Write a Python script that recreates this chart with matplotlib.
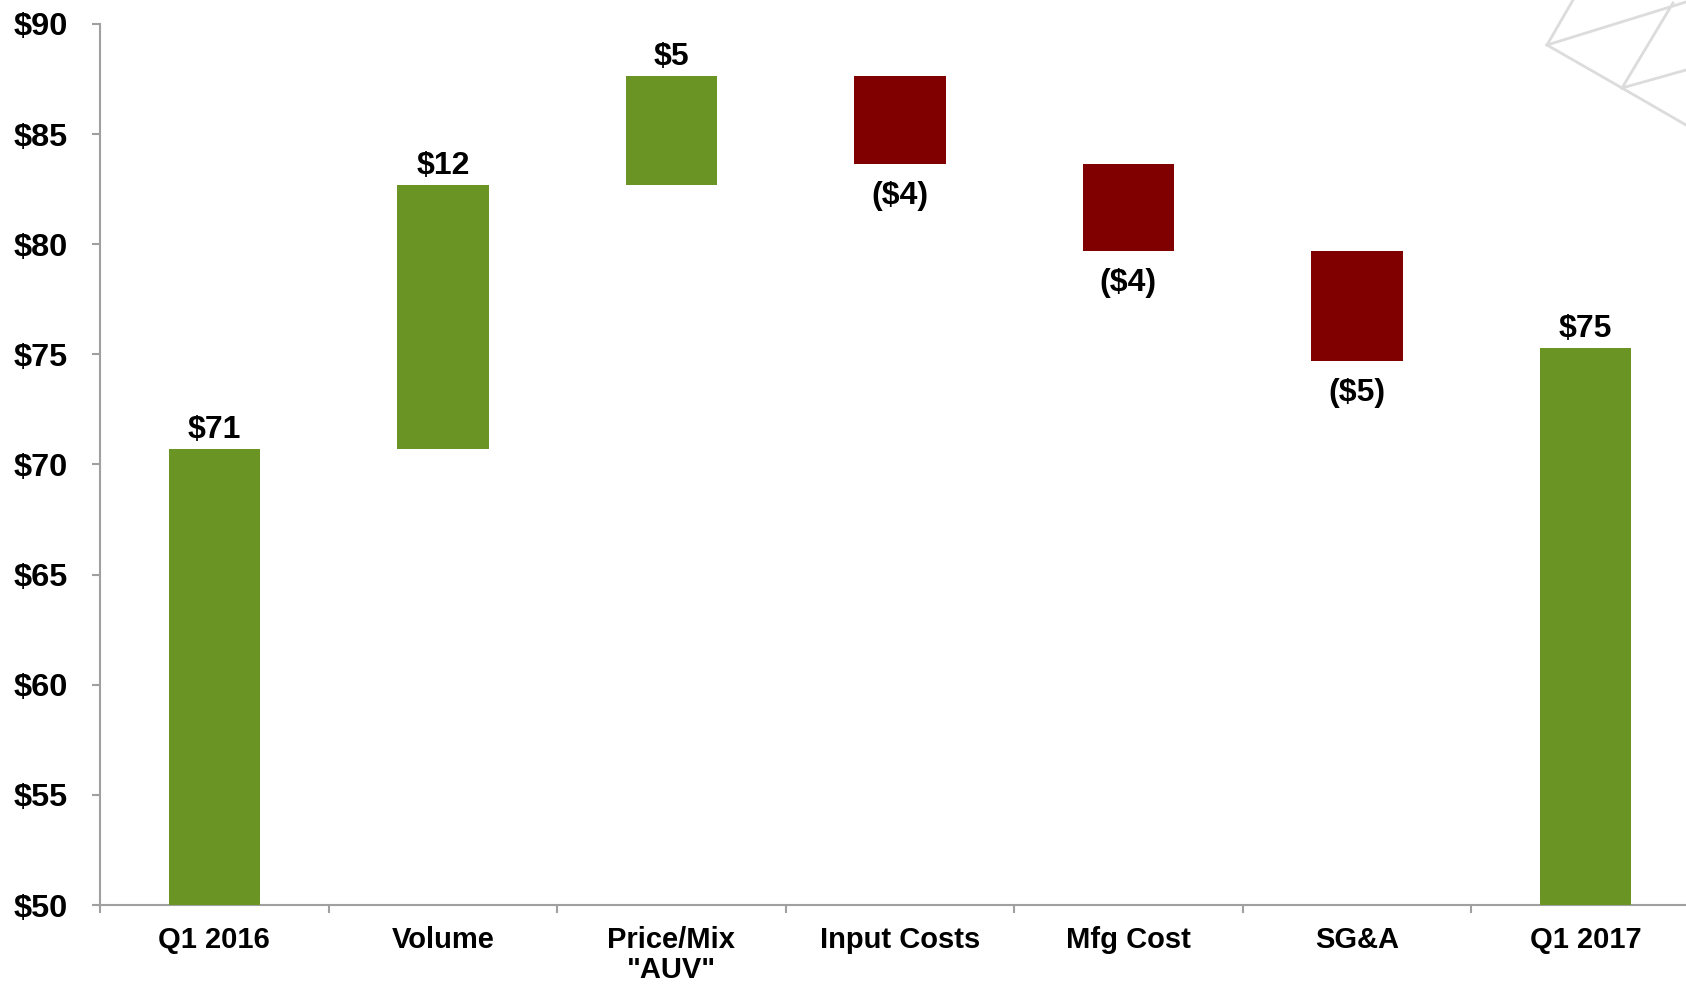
import numpy as np
import matplotlib
matplotlib.use("Agg")
import matplotlib.pyplot as plt
from matplotlib.lines import Line2D

categories = ["Q1 2016", "Volume", "Price/Mix\n\"AUV\"", "Input Costs", "Mfg Cost", "SG&A", "Q1 2017"]
start_value = 70.7
changes = [12.0, 4.95, -4.0, -3.95, -5.0]
end_value = 75.3
labels = ["$71", "$12", "$5", "($4)", "($4)", "($5)", "$75"]
yticks = [50, 55, 60, 65, 70, 75, 80, 85, 90]

GREEN = "#6a9525"
RED = "#800000"
AXIS = "#a0a0a0"


def main():
    plt.rcParams['font.family'] = ['Liberation Sans', 'DejaVu Sans']
    plt.rcParams['font.weight'] = 'bold'

    fig = plt.figure(figsize=(16.86, 9.85), dpi=100)
    ax = fig.add_axes([100 / 1686, 1 - 905 / 985, 1 - 100 / 1686, (905 - 24) / 985])
    ax.patch.set_alpha(0)

    # bottoms and heights of the waterfall steps
    levels = np.concatenate([[start_value], start_value + np.cumsum(changes)])
    bottoms = [50]
    heights = [start_value - 50]
    for i, c in enumerate(changes):
        lo = min(levels[i], levels[i + 1])
        bottoms.append(lo)
        heights.append(abs(c))
    bottoms.append(50)
    heights.append(end_value - 50)
    colors = [GREEN] + [GREEN if c > 0 else RED for c in changes] + [GREEN]
    signs = [1] + [1 if c > 0 else -1 for c in changes] + [1]

    x = np.arange(len(categories))
    ax.bar(x, heights, bottom=bottoms, width=0.4, color=colors, zorder=3)

    for xi, b, h, s, lab in zip(x, bottoms, heights, signs, labels):
        if s > 0:
            ax.annotate(lab, (xi, b + h), xytext=(0, 3), textcoords="offset points",
                        ha="center", va="bottom", fontsize=23, fontweight="bold")
        else:
            ax.annotate(lab, (xi, b), xytext=(0, -12), textcoords="offset points",
                        ha="center", va="top", fontsize=23, fontweight="bold")

    ax.set_yticks(yticks)
    ax.set_yticklabels([f"${v}" for v in yticks], fontsize=23.4, fontweight="bold")
    ax.set_xticks(x)
    ax.set_xticklabels(categories, fontsize=21, fontweight="bold", linespacing=1.08)
    ax.tick_params(axis="x", length=0, pad=15)
    ax.set_xticks(np.arange(-0.5, 6, 1), minor=True)
    ax.tick_params(axis="x", which="minor", length=6, width=1.5, color=AXIS, direction="out")
    ax.tick_params(axis="y", length=6, width=1.5, color=AXIS, pad=17)
    ax.set_ylim(50, 90)
    ax.set_xlim(-0.5, 6.44)

    for side in ["top", "right"]:
        ax.spines[side].set_visible(False)
    for side in ["left", "bottom"]:
        ax.spines[side].set_color(AXIS)
        ax.spines[side].set_linewidth(1.5)

    # faint decorative lines in the top right corner
    def px(xp, yp):
        return xp / 1686, 1 - yp / 985
    segs = [((1547, 45), (1573, 0)), ((1547, 45), (1686, 2)), ((1547, 45), (1622, 88)),
            ((1622, 88), (1686, 125)), ((1622, 88), (1673, 3)), ((1622, 88), (1686, 70))]
    for p0, p1 in segs:
        (x0, y0), (x1, y1) = px(*p0), px(*p1)
        fig.add_artist(Line2D([x0, x1], [y0, y1], color="#dcdcdc", lw=2, zorder=0))

    fig.savefig("out.png", dpi=100)
    plt.close(fig)


if __name__ == "__main__":
    main()
